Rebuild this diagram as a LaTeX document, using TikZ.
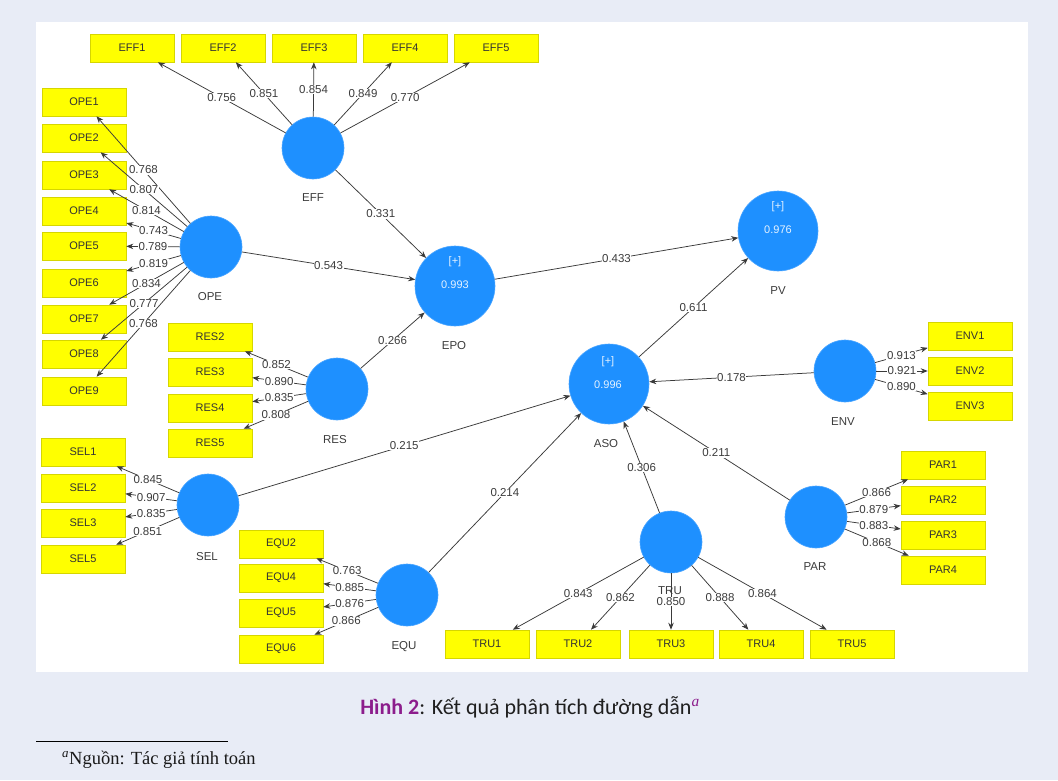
\documentclass[tikz,border=0pt]{standalone}
\usepackage{fontspec}
\setmainfont{Liberation Sans}
\newfontfamily\capfont{Carlito}
\newfontfamily\notefont{Liberation Serif}
\usetikzlibrary{arrows.meta,calc}
\definecolor{bgc}{HTML}{E8ECF6}
\definecolor{lvc}{RGB}{30,144,255}
\definecolor{indc}{HTML}{FFFF00}
\definecolor{indbc}{HTML}{D6D600}
\definecolor{numc}{HTML}{3C3C3C}
\definecolor{hinhc}{HTML}{8C1D8C}
\definecolor{lnc}{HTML}{3A3A3A}
\begin{document}
\begin{tikzpicture}[x=1pt,y=-1pt,
  lat/.style={circle, fill=lvc, draw=lvc!80!white, line width=0.6pt, minimum size=62pt, inner sep=0pt},
  biglat/.style={lat, minimum size=80pt},
  intext/.style={text=white!88!lvc, font=\fontsize{11}{12}\selectfont, inner sep=0pt},
  indbox/.style={rectangle, fill=indc, draw=indbc, line width=0.6pt, minimum width=84pt, minimum height=28pt, inner sep=0pt, font=\fontsize{11}{12}\selectfont, text=black!80},
  lvname/.style={font=\fontsize{11.5}{12}\selectfont, text=numc, inner sep=0pt},
  lnk/.style={draw=lnc, line width=0.75pt, -{Stealth[length=7pt,width=5.5pt]}},
  coef/.style={fill=white, inner sep=0.6pt, font=\fontsize{11.5}{12}\selectfont, text=numc}
]
\useasboundingbox (0,0) rectangle (1058,780);
\fill[bgc] (0,0) rectangle (1058,780);
\fill[white] (36,22) rectangle (1028,672);

% latent variables
\node[lat] (EFF) at (313,148) {};
\node[lat] (OPE) at (211,247) {};
\node[lat] (RES) at (337,389) {};
\node[lat] (SEL) at (208,505) {};
\node[lat] (EQU) at (407,595) {};
\node[lat] (TRU) at (671,542) {};
\node[lat] (PAR) at (816,517) {};
\node[lat] (ENV) at (845,371) {};
\node[biglat] (EPO) at (455,286) {};
\node[biglat] (PV) at (778,231) {};
\node[biglat] (ASO) at (609,384) {};

\node[intext] (EPOp) at (455,262) {[+]};
\node[intext] (EPOv) at (455,285) {0.993};
\node[intext] (PVp) at (778,207) {[+]};
\node[intext] (PVv) at (778,230) {0.976};
\node[intext] (ASOp) at (608,362) {[+]};
\node[intext] (ASOv) at (608,385) {0.996};

% names
\node[lvname] (EFFn) at (313,198) {EFF};
\node[lvname] (OPEn) at (210,297) {OPE};
\node[lvname] (RESn) at (335,440) {RES};
\node[lvname] (SELn) at (207,557) {SEL};
\node[lvname] (EQUn) at (404,647) {EQU};
\node[lvname] (TRUn) at (670,591) {TRU};
\node[lvname] (PARn) at (815,567) {PAR};
\node[lvname] (ENVn) at (843,422) {ENV};
\node[lvname] (PVn) at (778,291) {PV};
\node[lvname] (EPOn) at (454,346) {EPO};
\node[lvname] (ASOn) at (606,444) {ASO};

% indicators
\node[indbox] (EFF1) at (132,48) {EFF1};
\node[indbox] (EFF2) at (223,48) {EFF2};
\node[indbox] (EFF3) at (314,48) {EFF3};
\node[indbox] (EFF4) at (405,48) {EFF4};
\node[indbox] (EFF5) at (496,48) {EFF5};

\node[indbox] (OPE1) at (84,102) {OPE1};
\node[indbox] (OPE2) at (84,138) {OPE2};
\node[indbox] (OPE3) at (84,175) {OPE3};
\node[indbox] (OPE4) at (84,211) {OPE4};
\node[indbox] (OPE5) at (84,246) {OPE5};
\node[indbox] (OPE6) at (84,283) {OPE6};
\node[indbox] (OPE7) at (84,319) {OPE7};
\node[indbox] (OPE8) at (84,354) {OPE8};
\node[indbox] (OPE9) at (84,391) {OPE9};

\node[indbox] (RES2) at (210,337) {RES2};
\node[indbox] (RES3) at (210,372) {RES3};
\node[indbox] (RES4) at (210,408) {RES4};
\node[indbox] (RES5) at (210,443) {RES5};

\node[indbox] (SEL1) at (83,452) {SEL1};
\node[indbox] (SEL2) at (83,488) {SEL2};
\node[indbox] (SEL3) at (83,523) {SEL3};
\node[indbox] (SEL5) at (83,559) {SEL5};

\node[indbox] (EQU2) at (281,544) {EQU2};
\node[indbox] (EQU4) at (281,578) {EQU4};
\node[indbox] (EQU5) at (281,613) {EQU5};
\node[indbox] (EQU6) at (281,649) {EQU6};

\node[indbox] (TRU1) at (487,644) {TRU1};
\node[indbox] (TRU2) at (578,644) {TRU2};
\node[indbox] (TRU3) at (671,644) {TRU3};
\node[indbox] (TRU4) at (761,644) {TRU4};
\node[indbox] (TRU5) at (852,644) {TRU5};

\node[indbox] (ENV1) at (970,336) {ENV1};
\node[indbox] (ENV2) at (970,371) {ENV2};
\node[indbox] (ENV3) at (970,406) {ENV3};

\node[indbox] (PAR1) at (943,465) {PAR1};
\node[indbox] (PAR2) at (943,500) {PAR2};
\node[indbox] (PAR3) at (943,535) {PAR3};
\node[indbox] (PAR4) at (943,570) {PAR4};

% outer loadings
\draw[lnk] (EFF) -- node[coef]{0.756} (EFF1);
\draw[lnk] (EFF) -- node[coef]{0.851} (EFF2);
\draw[lnk] (EFF) -- node[coef]{0.854} (EFF3);
\draw[lnk] (EFF) -- node[coef]{0.849} (EFF4);
\draw[lnk] (EFF) -- node[coef]{0.770} (EFF5);

\draw[lnk] (OPE) -- node[coef]{0.768} (OPE1);
\draw[lnk] (OPE) -- node[coef]{0.807} (OPE2);
\draw[lnk] (OPE) -- node[coef]{0.814} (OPE3);
\draw[lnk] (OPE) -- node[coef]{0.743} (OPE4);
\draw[lnk] (OPE) -- node[coef]{0.789} (OPE5);
\draw[lnk] (OPE) -- node[coef]{0.819} (OPE6);
\draw[lnk] (OPE) -- node[coef]{0.834} (OPE7);
\draw[lnk] (OPE) -- node[coef]{0.777} (OPE8);
\draw[lnk] (OPE) -- node[coef]{0.768} (OPE9);

\draw[lnk] (RES) -- node[coef]{0.852} (RES2);
\draw[lnk] (RES) -- node[coef]{0.835} (RES4);
\draw[lnk] (RES) -- node[coef]{0.890} (RES3);
\draw[lnk] (RES) -- node[coef]{0.808} (RES5);

\draw[lnk] (SEL) -- node[coef]{0.845} (SEL1);
\draw[lnk] (SEL) -- node[coef]{0.907} (SEL2);
\draw[lnk] (SEL) -- node[coef]{0.835} (SEL3);
\draw[lnk] (SEL) -- node[coef]{0.851} (SEL5);

\draw[lnk] (EQU) -- node[coef]{0.763} (EQU2);
\draw[lnk] (EQU) -- node[coef]{0.885} (EQU4);
\draw[lnk] (EQU) -- node[coef]{0.876} (EQU5);
\draw[lnk] (EQU) -- node[coef]{0.866} (EQU6);

\draw[lnk] (TRU) -- node[coef]{0.843} (TRU1);
\draw[lnk] (TRU) -- node[coef]{0.862} (TRU2);
\draw[lnk] (TRU) -- node[coef]{0.850} (TRU3);
\draw[lnk] (TRU) -- node[coef]{0.888} (TRU4);
\draw[lnk] (TRU) -- node[coef]{0.864} (TRU5);

\draw[lnk] (ENV) -- node[coef]{0.913} (ENV1);
\draw[lnk] (ENV) -- node[coef]{0.921} (ENV2);
\draw[lnk] (ENV) -- node[coef]{0.890} (ENV3);

\draw[lnk] (PAR) -- node[coef]{0.866} (PAR1);
\draw[lnk] (PAR) -- node[coef]{0.879} (PAR2);
\draw[lnk] (PAR) -- node[coef]{0.883} (PAR3);
\draw[lnk] (PAR) -- node[coef]{0.868} (PAR4);

% structural paths
\draw[lnk] (EFF) -- node[coef]{0.331} (EPO);
\draw[lnk] (OPE) -- node[coef]{0.543} (EPO);
\draw[lnk] (RES) -- node[coef]{0.266} (EPO);
\draw[lnk] (EPO) -- node[coef]{0.433} (PV);
\draw[lnk] (ASO) -- node[coef]{0.611} (PV);
\draw[lnk] (ENV) -- node[coef]{0.178} (ASO);
\draw[lnk] (SEL) -- node[coef]{0.215} (ASO);
\draw[lnk] (EQU) -- node[coef]{0.214} (ASO);
\draw[lnk] (TRU) -- node[coef]{0.306} (ASO);
\draw[lnk] (PAR) -- node[coef]{0.211} (ASO);

% caption and footnote
\node[anchor=base, inner sep=0pt, text=black!88] (cap) at (530,714)
  {\capfont\fontsize{22}{26}\selectfont\textbf{\color{hinhc}Hình 2}: Kết quả phân tích đường dẫn\textsuperscript{\color{hinhc}\notefont\itshape a}};
\draw[line width=0.8pt, black] (36,741) -- (228,741);
\node[anchor=base west, inner sep=0pt, text=black!90] (note) at (62,764)
  {\notefont\fontsize{18.5}{20}\selectfont\textsuperscript{\itshape a}Nguồn: Tác giả tính toán};
\end{tikzpicture}
\end{document}
